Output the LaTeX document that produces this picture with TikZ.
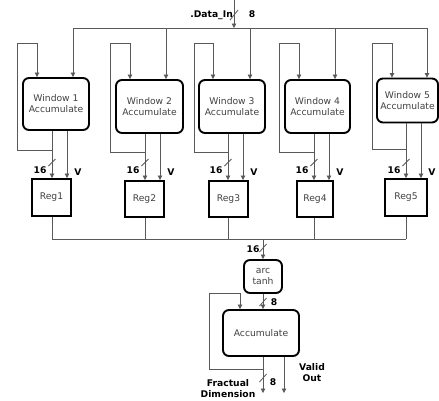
\documentclass[tikz,border=0pt]{standalone}
\usepackage{fontspec}
\setmainfont{DejaVu Sans}
\usetikzlibrary{arrows.meta}
\begin{document}
\begin{tikzpicture}[x=1pt,y=-1pt,
  wire/.style={draw=black!65, line width=0.8pt},
  arr/.style={wire,-{Triangle[length=4.5pt,width=4.5pt]}},
  winbox/.style={draw=black, line width=1.9pt, rounded corners=6pt, align=center, inner sep=0pt, font=\fontsize{9.2}{11}\selectfont, text=black!75},
  regbox/.style={draw=black, line width=1.9pt, inner sep=0pt, font=\fontsize{9.2}{11}\selectfont, text=black!75},
  lab/.style={font=\bfseries\fontsize{9.2}{11}\selectfont, inner sep=0pt, align=center}
]
\useasboundingbox (0,0) rectangle (439,400);
% window boxes
\node[winbox, minimum width=66pt, minimum height=52pt] (W1) at (56,104) {Window 1\\Accumulate};
\node[winbox, minimum width=67pt, minimum height=53pt] (W2) at (149.5,106.5) {Window 2\\Accumulate};
\node[winbox, minimum width=66pt, minimum height=53pt] (W3) at (232,106.5) {Window 3\\Accumulate};
\node[winbox, minimum width=65pt, minimum height=53pt] (W4) at (317.5,106.5) {Window 4\\Accumulate};
\node[winbox, minimum width=61pt, minimum height=44pt] (W5) at (407.5,100.5) {Window 5\\Accumulate};
% registers
\node[regbox, minimum width=39pt, minimum height=37pt] (R1) at (51.5,197.5) {Reg1};
\node[regbox, minimum width=39pt, minimum height=36pt] (R2) at (144.5,199) {Reg2};
\node[regbox, minimum width=39pt, minimum height=36pt] (R3) at (228.5,199) {Reg3};
\node[regbox, minimum width=36pt, minimum height=36pt] (R4) at (315,199) {Reg4};
\node[regbox, minimum width=42pt, minimum height=37pt] (R5) at (406,197.5) {Reg5};
% data input
\coordinate (din) at (234,0);
\coordinate (dbus) at (234,28);
\draw[arr] (din) -- (dbus);
\draw[wire] (230,20) -- (238,10);
\node[lab, anchor=east] at (233,15) {.Data\_In};
\node[lab] at (252,14) {8};
\coordinate (dbl) at (73,28);
\coordinate (dbr) at (427,28);
\draw[wire] (dbl) -- (dbr);
% result bus
\coordinate (rbl) at (52,239);
\coordinate (rbr) at (406,239);
\draw[wire] (rbl) -- (rbr);
\foreach \i/\lx/\ax/\xa/\xb/\dx/\by in {1/17/37/52/67/73/150, 2/110/130/145/160/166/152, 3/194/213/228/243/250/152, 4/279/299/314/329/335/152, 5/372/392/406/421/427/149}{
  \coordinate (j\i) at (\xa,\by);
  \coordinate (d\i) at (\dx,28);
  \draw[arr] (d\i) -- (W\i.north -| \dx,0);
  \draw[arr] (j\i) -- (\lx,\by) -- (\lx,43) -- (\ax,43) -- (W\i.north -| \ax,0);
  \draw[arr] (W\i.south -| \xa,0) -- (R\i.north -| \xa,0);
  \draw[arr] (W\i.south -| \xb,0) -- (R\i.north -| \xb,0);
  \draw[wire] (\xa-3.5,166) -- (\xa+3.5,159);
  \node[lab] at (\xa-12,170) {16};
  \node[lab] at (\xb+11,172) {V};
  \draw[wire] (R\i.south -| \xa,0) -- (\xa,239);
}
% final stage
\node[winbox, minimum width=38pt, minimum height=33pt] (AT) at (263,276.5) {arc\\tanh};
\node[winbox, minimum width=76pt, minimum height=46pt] (AC) at (261,333) {Accumulate};
\coordinate (bj) at (263,239);
\draw[arr] (bj) -- (AT.north);
\draw[wire] (259.5,252) -- (266.5,244);
\node[lab] at (253,249) {16};
\draw[arr] (AT.south) -- (AC.north -| AT.south);
\draw[wire] (259.5,306) -- (266.5,298);
\node[lab] at (274,302) {8};
\coordinate (aj) at (263,369);
\draw[arr] (aj) -- (209,369) -- (209,293) -- (240,293) -- (AC.north -| 240,0);
\coordinate (fd) at (263,393);
\coordinate (vo) at (284,393);
\draw[arr] (AC.south -| 263,0) -- (fd);
\draw[arr] (AC.south -| 284,0) -- (vo);
\draw[wire] (259.5,382) -- (266.5,374);
\node[lab] at (273,382) {8};
\node[lab] at (228,389) {Fractual\\Dimension};
\node[lab] at (312,373) {Valid\\Out};
\end{tikzpicture}
\end{document}
